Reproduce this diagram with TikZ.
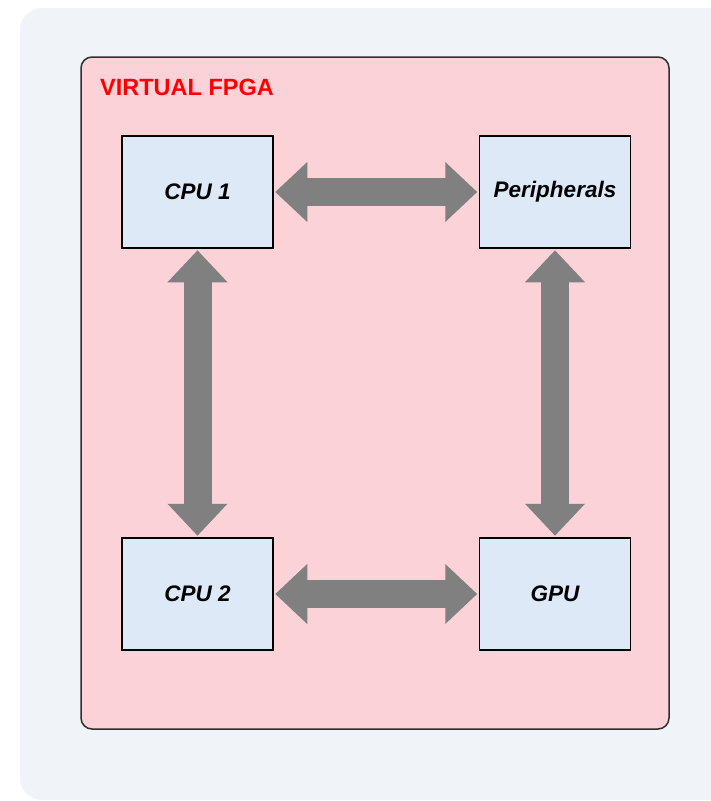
\documentclass[tikz,border=0pt]{standalone}
\usepackage{fontspec}
\setmainfont{Liberation Sans}
\usetikzlibrary{arrows.meta}
\definecolor{pagebg}{HTML}{F0F4F8}
\definecolor{fpgafill}{HTML}{FAD2D8}
\definecolor{unitfill}{HTML}{DEE9F7}
\definecolor{linkgray}{HTML}{808080}
\definecolor{edgedark}{HTML}{2E2E2E}
\tikzset{
  unit/.style={draw=black, fill=unitfill, line width=1.5pt, rectangle,
    minimum width=151pt, minimum height=112pt, inner sep=0pt,
    font=\fontsize{22.5}{27}\selectfont\bfseries\itshape},
  buslink/.style={draw=linkgray, line width=28pt,
    {Triangle[width=58pt,length=32pt]}-{Triangle[width=58pt,length=32pt]},
    shorten <=1.5pt, shorten >=1.5pt},
}
\begin{document}
\begin{tikzpicture}[x=1pt,y=-1pt]
  \useasboundingbox (0,0) rectangle (711,801);
  % page background panel
  \begin{scope}
    \clip (0,0) rectangle (711,801);
    \fill[pagebg, rounded corners=22pt] (20,8) rectangle (760,800);
  \end{scope}
  % FPGA enclosure
  \draw[edgedark, fill=fpgafill, line width=1.5pt, rounded corners=11pt]
    (81,57) rectangle (669,729);
  \node[anchor=base west, inner sep=0pt, text=red,
    font=\fontsize{23.5}{28}\selectfont\bfseries] (title) at (100,95) {VIRTUAL FPGA};
  % functional units
  \node[unit] (cpu1) at (197.5,192) {CPU 1};
  \node[unit] (per)  at (555,192)   {Peripherals};
  \node[unit] (cpu2) at (197.5,594) {CPU 2};
  \node[unit] (gpu)  at (555,594)   {GPU};
  % interconnect
  \draw[buslink] (cpu1) -- (per);
  \draw[buslink] (cpu2) -- (gpu);
  \draw[buslink] (cpu1) -- (cpu2);
  \draw[buslink] (per) -- (gpu);
\end{tikzpicture}
\end{document}
